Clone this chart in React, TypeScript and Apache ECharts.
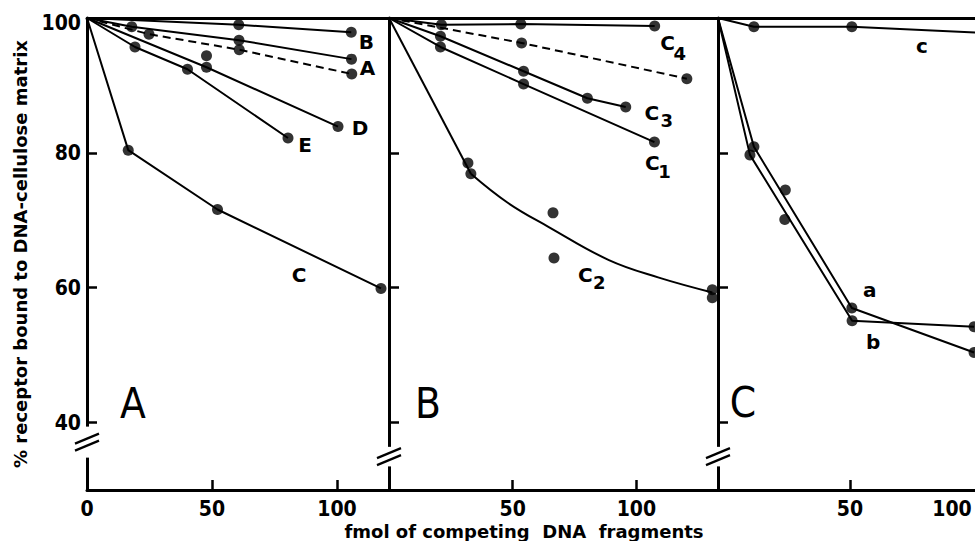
import React, { useEffect, useRef } from "react";
import * as echarts from "echarts";

type P = number[];
const ORIGIN: P = [0, 100];

// ---- Panel A ----
const aB: P[] = [[60.7, 99.0], [105.7, 97.9]];
const aA: P[] = [[17.9, 98.7], [60.8, 96.7], [105.8, 93.9]];
const aDashed: P[] = [[24.8, 97.6], [60.9, 95.3], [105.9, 91.7]];
const aDdots: P[] = [[47.8, 94.4], [47.8, 92.7], [100.4, 83.9]];
const aDline: P[] = [[0, 100], [47.8, 92.7], [100.4, 83.9]];
const aE: P[] = [[19.2, 95.7], [40.2, 92.4], [80.4, 82.2]];
const aC: P[] = [[16.5, 80.4], [52.2, 71.6], [117.6, 59.9]];

// ---- Panel B ----
const bC4: P[] = [[21.2, 99.0], [53.3, 99.1], [107.4, 98.8]];
const bDashed: P[] = [[53.6, 96.3], [120.4, 91.0]];
const bC3: P[] = [[20.8, 97.3], [54.4, 92.1], [80.2, 88.1], [95.7, 86.8]];
const bC1: P[] = [[20.8, 95.7], [54.4, 90.2], [107.3, 81.6]];
const bC2dots: P[] = [[31.9, 78.5], [33.1, 76.9], [66.3, 71.1], [66.7, 64.4], [130.7, 59.7], [130.7, 58.5]];
const bC2start: P[] = [[0, 100], [33.1, 76.9]];
const bC2curve: P[] = [[33.1, 76.9], [48.0, 72.6], [64.6, 69.0], [88.9, 64.1], [109.1, 61.5], [130.7, 59.3]];

// ---- Panel C ----
const cCdots: P[] = [[13.6, 98.7], [50.7, 98.7]];
const cCline: P[] = [[0, 100], [13.6, 98.7], [50.7, 98.7], [100, 97.8]];
const cAline: P[] = [[0, 100], [13.6, 80.9], [50.7, 57.0], [97, 50.4]];
const cAdots: P[] = [[13.6, 80.9], [25.5, 74.5], [50.7, 57.0], [97, 50.4]];
const cBline: P[] = [[0, 100], [12.1, 79.7], [50.8, 55.1], [97, 54.2]];
const cBdots: P[] = [[12.1, 79.7], [25.3, 70.1], [50.8, 55.1], [97, 54.2]];

// ---- Axes ----
const xMax = [120.8, 133, 100];
const yMin = 30;
const yMax = 100;
const yTickValues = [40, 60, 80];
const yLabelValues = [40, 60, 80, 100];
const xTickValues = [50, 100];
const xLabelValues = [[0, 50, 100], [50, 100], [50, 100]];
const breakRanges = [[39.4, 34.8], [36.4, 33.5], [36.4, 33.5]];
const panelLetters = ["A", "B", "C"];
const yTitle = "% receptor bound to DNA-cellulose matrix";
const xTitle = "fmol of competing  DNA  fragments";

const INK = "#000000";
const NARROW = "'Liberation Sans Narrow', 'DejaVu Sans Condensed', 'Liberation Sans', sans-serif";
const SANS = "'DejaVu Sans', 'Liberation Sans', sans-serif";

const GRID_TOP = 18;
const GRID_H = 472;
const gridLeft = [87, 389, 718];
const gridWidth = [302, 329, 264];

interface Curve {
  g: number;
  line: P[];
  extraLine?: P[];
  dots: P[];
  dashed?: boolean;
  label?: { text: string; sub?: string; anchor: P; dx: number; dy: number; sdx?: number; sdy?: number };
}

const curves: Curve[] = [
  { g: 0, line: [ORIGIN, ...aB], dots: aB, label: { text: "B", anchor: aB[aB.length - 1], dx: 15, dy: 10 } },
  { g: 0, line: [ORIGIN, ...aA], dots: aA, label: { text: "A", anchor: aA[aA.length - 1], dx: 16, dy: 9 } },
  { g: 0, line: [ORIGIN, ...aDashed], dots: aDashed, dashed: true },
  { g: 0, line: aDline, dots: aDdots, label: { text: "D", anchor: aDline[aDline.length - 1], dx: 22, dy: 1 } },
  { g: 0, line: [ORIGIN, ...aE], dots: aE, label: { text: "E", anchor: aE[aE.length - 1], dx: 17, dy: 7 } },
  { g: 0, line: [ORIGIN, ...aC], dots: aC, label: { text: "C", anchor: aC[aC.length - 1], dx: -82, dy: -13 } },
  { g: 1, line: [ORIGIN, ...bC4], dots: bC4, label: { text: "C", sub: "4", anchor: bC4[bC4.length - 1], dx: 13, dy: 17, sdx: 12, sdy: 10 } },
  { g: 1, line: [ORIGIN, ...bDashed], dots: bDashed, dashed: true },
  { g: 1, line: [ORIGIN, ...bC3], dots: bC3, label: { text: "C", sub: "3", anchor: bC3[bC3.length - 1], dx: 26, dy: 6, sdx: 15, sdy: 7 } },
  { g: 1, line: [ORIGIN, ...bC1], dots: bC1, label: { text: "C", sub: "1", anchor: bC1[bC1.length - 1], dx: -2, dy: 21, sdx: 12, sdy: 8 } },
  { g: 1, line: bC2start, extraLine: bC2curve, dots: bC2dots, label: { text: "C", sub: "2", anchor: bC2curve[bC2curve.length - 1], dx: -127, dy: -17, sdx: 14, sdy: 7 } },
  { g: 2, line: cCline, dots: cCdots, label: { text: "c", anchor: cCdots[1], dx: 70, dy: 19 } },
  { g: 2, line: cAline, dots: cAdots, label: { text: "a", anchor: cAline[2], dx: 18, dy: -18 } },
  { g: 2, line: cBline, dots: cBdots, label: { text: "b", anchor: cBline[2], dx: 21, dy: 21 } },
];

export default function App() {
  const ref = useRef<HTMLDivElement>(null);

  useEffect(() => {
    document.body.style.margin = "0";
    const chart = echarts.init(ref.current as HTMLDivElement, null, { renderer: "svg" });

    const grids = [0, 1, 2].map((g) => ({
      left: gridLeft[g],
      top: GRID_TOP,
      width: gridWidth[g],
      height: GRID_H,
      containLabel: false,
      outerBoundsMode: "none",
    }));

    const axisLine = { show: true, onZero: false, lineStyle: { color: INK, width: 3 } };
    const tickFont = { color: INK, fontFamily: NARROW, fontWeight: "bold", fontSize: 21 };

    const xBottom = [0, 1, 2].map((g) => ({
      type: "value",
      gridIndex: g,
      position: "bottom",
      min: 0,
      max: xMax[g],
      axisLine,
      axisTick: { show: true, inside: true, length: 10, customValues: xTickValues, lineStyle: { color: INK, width: 2.5 } },
      axisLabel: {
        show: true,
        customValues: xLabelValues[g],
        margin: 8,
        hideOverlap: false,
        ...tickFont,
        // last panel is cropped at the page edge: keep its "100" inside the picture
        formatter: (v: number) => (g === 2 && v === 100 ? "{e|100}" : String(v)),
        rich: { e: { padding: [0, 60, 0, 0], ...tickFont } },
      },
      splitLine: { show: false },
    }));
    const xTop = [0, 1, 2].map((g) => ({
      type: "value",
      gridIndex: g,
      position: "top",
      min: 0,
      max: xMax[g],
      axisLine,
      axisTick: { show: false },
      axisLabel: { show: false },
      splitLine: { show: false },
    }));
    const yAxes = [0, 1, 2].map((g) => ({
      type: "value",
      gridIndex: g,
      position: "left",
      min: yMin,
      max: yMax,
      axisLine,
      axisTick: { show: true, inside: true, length: 10, customValues: yTickValues, lineStyle: { color: INK, width: 2.5 } },
      axisLabel: {
        show: g === 0,
        customValues: yLabelValues,
        margin: 6,
        ...tickFont,
        formatter: (v: number) => (v === 100 ? "{t|100}" : String(v)),
        rich: { t: { padding: [10, 0, 0, 0], ...tickFont } },
      },
      splitLine: { show: false },
      name: g === 0 ? yTitle : "",
      nameLocation: "middle",
      nameGap: 58,
      nameRotate: 90,
      nameTextStyle: { color: INK, fontFamily: SANS, fontWeight: "bold", fontSize: 18 },
    }));

    const series: any[] = [];
    const addLine = (g: number, data: P[], dashed: boolean, smooth: number | boolean) =>
      series.push({
        type: "line",
        xAxisIndex: g,
        yAxisIndex: g,
        data,
        symbol: "none",
        smooth,
        clip: false,
        silent: true,
        lineStyle: { color: INK, width: 2, type: dashed ? [8, 5] : "solid" },
      });
    curves.forEach((c) => {
      addLine(c.g, c.line, !!c.dashed, false);
      if (c.extraLine) addLine(c.g, c.extraLine, !!c.dashed, 0.4);
      series.push({
        type: "scatter",
        xAxisIndex: c.g,
        yAxisIndex: c.g,
        data: c.dots,
        symbol: "circle",
        symbolSize: 11,
        clip: false,
        silent: true,
        itemStyle: { color: INK },
      });
    });

    chart.setOption({
      animation: false,
      backgroundColor: "#ffffff",
      grid: grids,
      xAxis: [...xBottom, ...xTop],
      yAxis: yAxes,
      series,
    });

    const px = (g: number, p: P) => chart.convertToPixel({ xAxisIndex: g, yAxisIndex: g }, p) as number[];

    const graphic: any[] = [];
    // axis breaks
    [0, 1, 2].forEach((g) => {
      const x = gridLeft[g];
      const yT = px(g, [0, breakRanges[g][0]])[1];
      const yB = px(g, [0, breakRanges[g][1]])[1];
      graphic.push({ type: "rect", z: 99, shape: { x: x - 5, y: yT, width: 10, height: yB - yT }, style: { fill: "#ffffff" } });
      const mid = (yT + yB) / 2;
      [-3.5, 3.5].forEach((k) => {
        graphic.push({
          type: "line",
          z: 100,
          shape: { x1: x - 12, y1: mid + k + 5, x2: x + 12, y2: mid + k - 5 },
          style: { stroke: INK, lineWidth: 2.2 },
        });
      });
    });
    // curve labels
    curves.forEach((c) => {
      if (!c.label) return;
      const [ax, ay] = px(c.g, c.label.anchor);
      const lx = ax + c.label.dx;
      const ly = ay + c.label.dy;
      graphic.push({
        type: "text",
        z: 100,
        x: lx,
        y: ly,
        style: { text: c.label.text, fontFamily: SANS, fontWeight: "bold", fontSize: 20, fill: INK, align: "center", verticalAlign: "middle" },
      });
      if (c.label.sub) {
        graphic.push({
          type: "text",
          z: 100,
          x: lx + (c.label.sdx ?? 11),
          y: ly + (c.label.sdy ?? 8),
          style: { text: c.label.sub, fontFamily: SANS, fontWeight: "bold", fontSize: 18, fill: INK, align: "center", verticalAlign: "middle" },
        });
      }
    });
    // panel letters
    const letterPos = [[133, 403], [428, 403], [743, 402]];
    panelLetters.forEach((t, i) => {
      graphic.push({
        type: "text",
        z: 100,
        x: letterPos[i][0],
        y: letterPos[i][1],
        style: { text: t, fontFamily: NARROW, fontSize: 42, fill: INK, align: "center", verticalAlign: "middle" },
      });
    });
    // x title
    graphic.push({
      type: "text",
      z: 100,
      x: 524,
      y: 531,
      style: { text: xTitle, fontFamily: SANS, fontWeight: "bold", fontSize: 18, fill: INK, align: "center", verticalAlign: "middle" },
    });

    chart.setOption({ graphic });

    return () => chart.dispose();
  }, []);

  return <div ref={ref} style={{ width: 975, height: 541 }} />;
}
